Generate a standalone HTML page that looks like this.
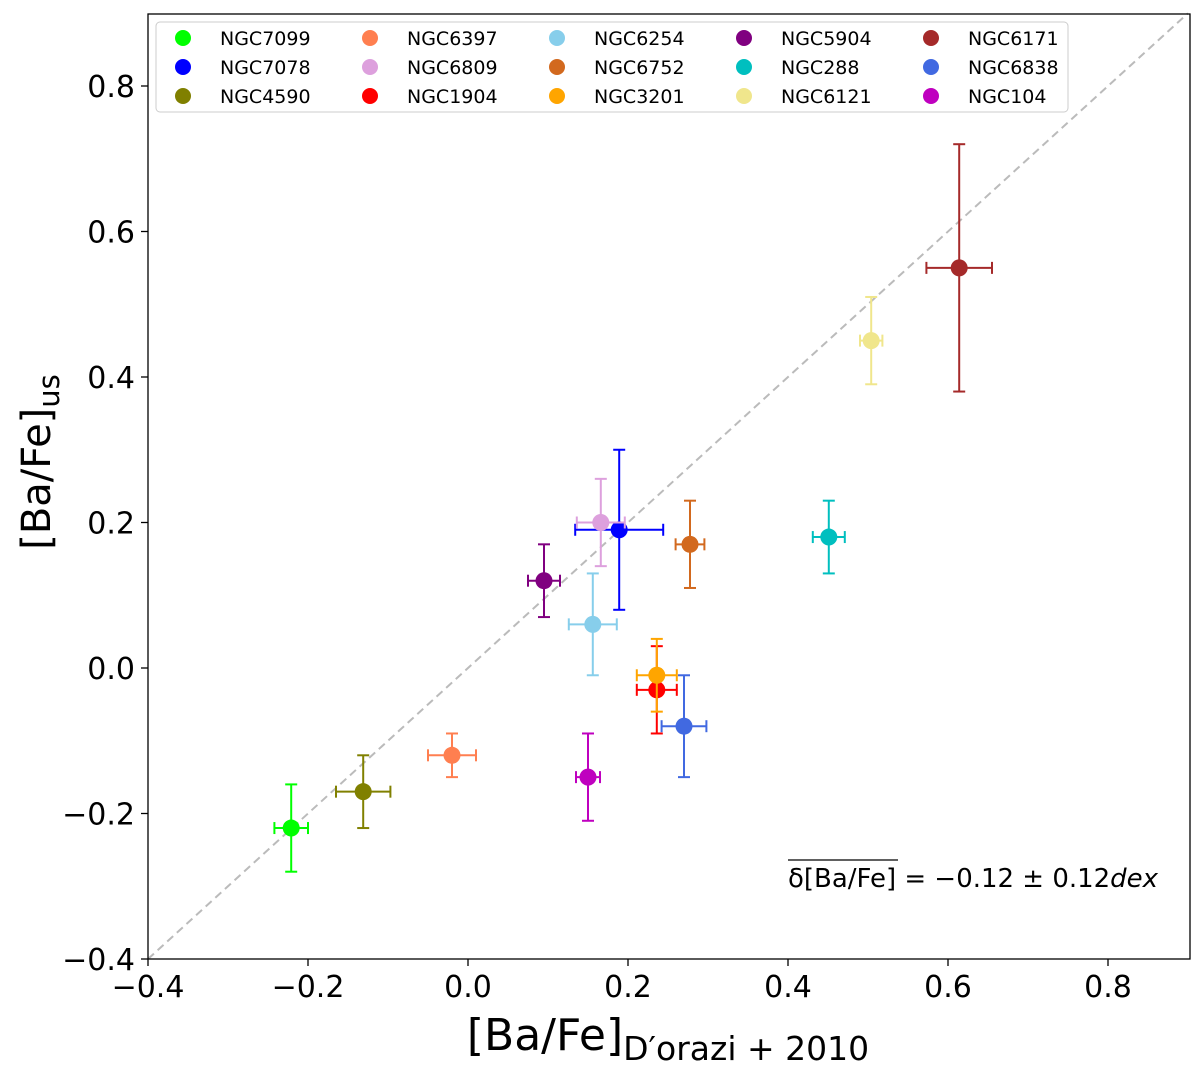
<!DOCTYPE html>
<html><head><meta charset="utf-8"><style>
body{margin:0;background:#fff;}
svg{display:block;font-family:"DejaVu Sans","Liberation Sans",sans-serif;}
</style></head><body>
<svg id="chart" width="1200" height="1077" viewBox="0 0 1200 1077" xmlns="http://www.w3.org/2000/svg">
<g id="plot"></g>
<rect x="148" y="14" width="1042" height="945" fill="none" stroke="#000" stroke-width="1.3"/>
<g id="ticks"></g>
<text transform="translate(50,462) rotate(-90)" text-anchor="middle" font-size="40">[Ba/Fe]<tspan font-size="29" dy="9">us</tspan></text>
<text x="668" y="1050" text-anchor="middle" font-size="44">[Ba/Fe]<tspan font-size="33" dy="10">D′orazi + 2010</tspan></text>
<g>
<text x="788" y="887" font-size="25.5" textLength="370" lengthAdjust="spacingAndGlyphs">δ[Ba/Fe] = −0.12 ± 0.12<tspan font-style="italic">dex</tspan></text>
<line x1="788" y1="860" x2="898" y2="860" stroke="#000" stroke-width="1.2"/>
</g>
<g id="legend">
<rect x="156" y="22" width="912" height="90" rx="4" fill="#fff" fill-opacity="0.85" stroke="#ccc"/>
</g>
</svg>
<script>
const names=["NGC7099","NGC7078","NGC4590","NGC6397","NGC6809","NGC1904","NGC6254","NGC6752","NGC3201","NGC5904","NGC288","NGC6121","NGC6171","NGC6838","NGC104"];
const colors=["#00ff00","#0000ff","#808000","#ff7f50","#dda0dd","#ff0000","#87ceeb","#d2691e","#ffa500","#800080","#00bfbf","#f0e68c","#a52a2a","#4169e1","#bf00bf"];
const xVals=[-0.221,0.189,-0.131,-0.02,0.166,0.236,0.156,0.2775,0.236,0.095,0.451,0.504,0.614,0.27,0.15];
const yVals=[-0.22,0.19,-0.17,-0.12,0.2,-0.03,0.06,0.17,-0.01,0.12,0.18,0.45,0.55,-0.08,-0.15];
const xErr=[0.021,0.055,0.034,0.03,0.03,0.025,0.03,0.018,0.025,0.02,0.02,0.014,0.041,0.028,0.015];
const yErr=[0.06,0.11,0.05,0.03,0.06,0.06,0.07,0.06,0.05,0.05,0.05,0.06,0.17,0.07,0.06];
const xTicks=[-0.4,-0.2,0.0,0.2,0.4,0.6,0.8];
const yTicks=[-0.4,-0.2,0.0,0.2,0.4,0.6,0.8];
const NS="http://www.w3.org/2000/svg";
const X=v=>468+v*800, Y=v=>668-v*727.5;
function mk(tag,at,parent){const e=document.createElementNS(NS,tag);for(const k in at)e.setAttribute(k,at[k]);parent.appendChild(e);return e;}
const plot=document.getElementById('plot'),ticks=document.getElementById('ticks'),leg=document.getElementById('legend');
const diag=mk('line',{x1:X(-0.4),y1:Y(-0.4),x2:X(0.9),y2:Y(0.9),stroke:'#bbb','stroke-width':2,'stroke-dasharray':'8,5'},plot);


const fmt=v=>(v<0?'−':'')+Math.abs(v).toFixed(1);
xTicks.forEach(v=>{
  const t=mk('line',{x1:X(v),x2:X(v),y1:959,y2:966,stroke:'#000','stroke-width':1.3},ticks);
  
  
  const l=mk('text',{x:X(v),y:997,'text-anchor':'middle','font-size':30},ticks);l.textContent=fmt(v);
  
  
});
yTicks.forEach(v=>{
  const t=mk('line',{x1:141,x2:148,y1:Y(v),y2:Y(v),stroke:'#000','stroke-width':1.3},ticks);
  
  
  const l=mk('text',{x:135,y:Y(v)+11,'text-anchor':'end','font-size':30},ticks);l.textContent=fmt(v);
  
  
});
names.forEach((n,i)=>{
  const g=mk('g',{},plot);
  
  
  const c=colors[i],cx=X(xVals[i]),cy=Y(yVals[i]);
  const x0=X(xVals[i]-xErr[i]),x1=X(xVals[i]+xErr[i]),y0=Y(yVals[i]-yErr[i]),y1=Y(yVals[i]+yErr[i]);
  const s={stroke:c,'stroke-width':2};
  mk('line',Object.assign({x1:x0,x2:x1,y1:cy,y2:cy},s),g);
  mk('line',Object.assign({x1:cx,x2:cx,y1:y0,y2:y1},s),g);
  mk('line',Object.assign({x1:x0,x2:x0,y1:cy-6,y2:cy+6},s),g);
  mk('line',Object.assign({x1:x1,x2:x1,y1:cy-6,y2:cy+6},s),g);
  mk('line',Object.assign({x1:cx-6,x2:cx+6,y1:y0,y2:y0},s),g);
  mk('line',Object.assign({x1:cx-6,x2:cx+6,y1:y1,y2:y1},s),g);
  mk('circle',{cx:cx,cy:cy,r:8.5,fill:c},g);
  const col=Math.floor(i/3),row=i%3;
  const lg=mk('g',{},leg);
  
  
  mk('circle',{cx:183+col*187,cy:38+row*29,r:8,fill:c},lg);
  const t=mk('text',{x:220+col*187,y:45+row*29,'font-size':19},lg);t.textContent=n;
});
</script>
</body></html>
